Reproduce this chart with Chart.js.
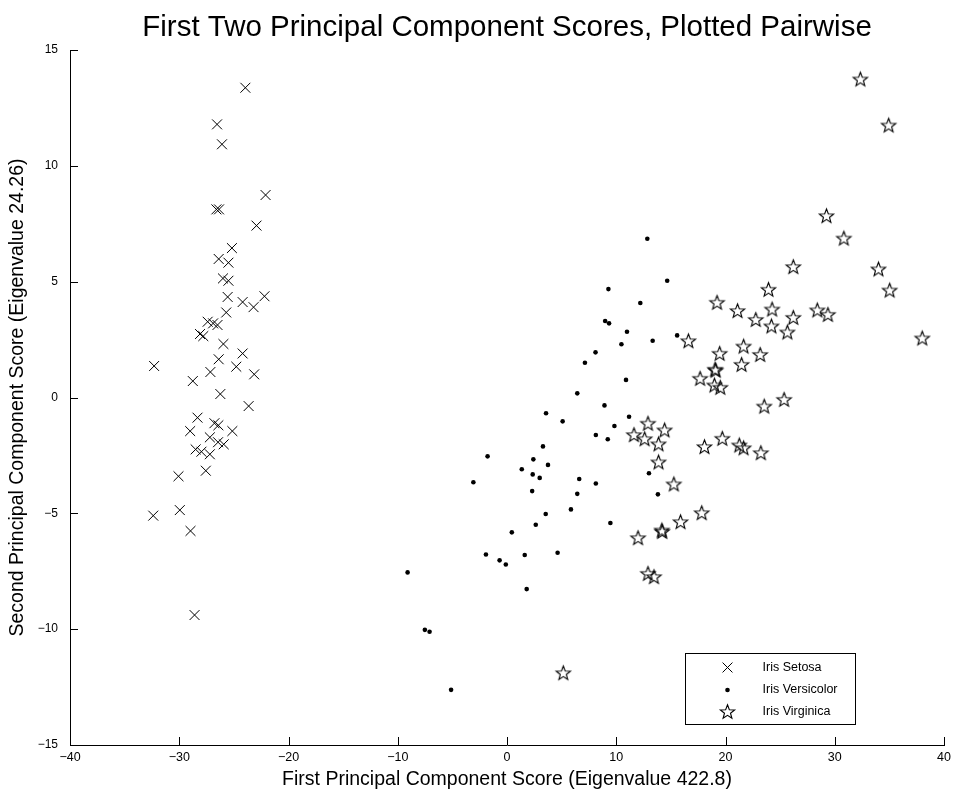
<!DOCTYPE html>
<html>
<head>
<meta charset="utf-8">
<title>First Two Principal Component Scores</title>
<script src="https://cdn.jsdelivr.net/npm/chart.js@4"></script>
<style>
  html, body { margin: 0; padding: 0; background: #fff; }
  #wrap { width: 956px; height: 791px; }
</style>
</head>
<body>
<div id="wrap"><canvas id="pcaChart" width="956" height="791"></canvas></div>
<script>
// scores (PC1, PC2)
const setosaX = [-23.95, -26.54, -26.09, -22.1, -26.6, -26.36, -22.93, -25.18, -26.39, -25.5, -26.0, -25.5, -25.57, -24.2, -23.2, -22.2, -25.7, -27.4, -26.9, -26.5, -28.1, -27.8, -25.96, -24.2, -26.39, -32.3, -24.78, -27.15, -23.14, -28.76, -26.24, -23.65, -28.33, -26.78, -26.42, -29.0, -25.14, -27.2, -26.45, -25.93, -28.5, -27.97, -27.2, -27.57, -30.07, -29.95, -32.38, -28.97, -28.6];
const setosaY = [13.37, 11.79, 10.93, 8.74, 8.12, 8.12, 7.42, 6.45, 5.98, 5.82, 5.14, 5.04, 4.34, 4.12, 3.9, 4.37, 3.67, 3.27, 3.2, 3.13, 2.74, 2.65, 2.31, 1.9, 1.65, 1.36, 1.33, 1.1, 1.0, 0.71, 0.15, -0.37, -0.87, -1.11, -1.2, -1.45, -1.45, -1.72, -1.93, -2.02, -2.24, -2.34, -2.45, -3.16, -3.4, -4.86, -5.1, -5.76, -9.39];

const versicolorX = [8.1, 7.13, 6.43, 3.57, 5.09, 8.13, 3.29, -1.78, 2.41, 3.75, 1.35, 2.35, 2.99, -3.08, 6.61, 8.13, 2.3, 6.43, 5.85, 3.54, 2.63, 0.44, -1.93, -0.68, -0.11, 1.62, 4.63, -9.1, 1.8, -7.52, -7.09, -5.12, 12.84, 14.66, 12.2, 10.98, 10.47, 13.33, 15.57, 10.89, 11.17, 12.99, 13.81, 9.46, 9.28, 8.98, 9.34, 8.92, 9.83, 9.22];
const versicolorY = [1.95, 1.5, 0.18, -0.68, -1.03, -1.62, -2.11, -2.54, -2.67, -2.91, -3.1, -3.32, -3.47, -3.66, -3.52, -3.71, -4.04, -4.16, -4.83, -5.03, -5.49, -5.82, -6.78, -7.03, -7.21, -6.8, -6.7, -7.55, -8.27, -10.03, -10.11, -12.62, 6.85, 5.04, 4.08, 2.84, 2.3, 2.45, 2.68, 0.76, -0.83, -3.27, -4.18, -5.42, 4.68, 3.3, 3.2, -0.34, -1.23, -1.8];

const virginicaX = [32.34, 34.93, 29.24, 30.83, 26.2, 34.0, 35.02, 23.93, 19.22, 21.1, 24.26, 22.77, 26.2, 28.4, 29.37, 24.2, 25.66, 38.0, 16.6, 21.65, 19.46, 23.17, 21.47, 19.04, 19.1, 17.67, 18.98, 19.52, 25.36, 23.54, 12.9, 14.42, 11.62, 12.6, 13.87, 19.7, 18.07, 21.26, 21.65, 23.23, 13.87, 15.27, 17.82, 15.88, 14.17, 14.2, 11.99, 12.9, 13.45, 5.15];
const virginicaY = [13.75, 11.76, 7.85, 6.88, 5.65, 5.55, 4.64, 4.67, 4.11, 3.75, 3.82, 3.37, 3.46, 3.78, 3.59, 3.09, 2.83, 2.57, 2.45, 2.22, 1.91, 1.86, 1.43, 1.22, 1.18, 0.83, 0.54, 0.44, -0.08, -0.37, -1.11, -1.4, -1.6, -1.78, -2.0, -1.76, -2.12, -2.05, -2.17, -2.38, -2.78, -3.73, -4.97, -5.36, -5.72, -5.78, -6.05, -7.59, -7.73, -11.88];

const seriesNames = ['Iris Setosa', 'Iris Versicolor', 'Iris Virginica'];
const xTicks = [-40, -30, -20, -10, 0, 10, 20, 30, 40];
const yTicks = [-15, -10, -5, 0, 5, 10, 15];

const plainFont = "'Liberation Sans', Arial, Helvetica, sans-serif";

function toPoints(xs, ys) {
    return xs.map((x, i) => ({ x: x, y: ys[i] }));
}

function minusSign(v) {
    return String(v).replace('-', '\u2212');
}

// hollow five-point star marker
function makeStar(r) {
    const size = Math.ceil(r * 2 + 4);
    const c = document.createElement('canvas');
    c.width = size;
    c.height = size;
    const g = c.getContext('2d');
    const cx = size / 2, cy = size / 2 + r * 0.1;
    g.beginPath();
    for (let i = 0; i < 10; i++) {
        const rad = i % 2 === 0 ? r : r * 0.42;
        const a = -Math.PI / 2 + i * Math.PI / 5;
        g.lineTo(cx + rad * Math.cos(a), cy + rad * Math.sin(a));
    }
    g.closePath();
    g.strokeStyle = '#000';
    g.lineWidth = 1.1;
    g.stroke();
    return c;
}
const starMark = makeStar(7.5);

// tick marks pointing into the plot
const inwardTicks = {
    id: 'inwardTicks',
    afterDraw(chart) {
        const ctx = chart.ctx;
        const area = chart.chartArea;
        const xs = chart.scales.x;
        const ys = chart.scales.y;
        ctx.save();
        ctx.strokeStyle = '#000';
        ctx.lineWidth = 1;
        ctx.beginPath();
        xs.ticks.forEach((t, i) => {
            const px = Math.round(xs.getPixelForTick(i)) + 0.5;
            ctx.moveTo(px, area.bottom);
            ctx.lineTo(px, area.bottom - 8);
        });
        ys.ticks.forEach((t, i) => {
            const py = Math.round(ys.getPixelForTick(i)) + 0.5;
            ctx.moveTo(area.left, py);
            ctx.lineTo(area.left + 8, py);
        });
        ctx.stroke();
        ctx.restore();
    }
};

// boxed legend in the lower right corner of the plot
const boxLegend = {
    id: 'boxLegend',
    afterDraw(chart) {
        const ctx = chart.ctx;
        const area = chart.chartArea;
        const w = 170, h = 71;
        const left = Math.round(area.right - 89 - w) + 0.5;
        const top = Math.round(area.bottom - 21 - h) + 0.5;
        ctx.save();
        ctx.fillStyle = '#fff';
        ctx.fillRect(left, top, w, h);
        ctx.strokeStyle = '#000';
        ctx.lineWidth = 1;
        ctx.strokeRect(left, top, w, h);

        const symX = left + 42;
        const textX = left + 77;
        const rows = [top + 14, top + 36.5, top + 58];
        ctx.font = '12.5px ' + plainFont;
        ctx.textBaseline = 'middle';
        ctx.fillStyle = '#000';
        chart.data.datasets.forEach((ds, i) => {
            const y = rows[i];
            if (i === 0) {
                const d = 7 * Math.SQRT1_2;
                ctx.beginPath();
                ctx.moveTo(symX - d, y - d);
                ctx.lineTo(symX + d, y + d);
                ctx.moveTo(symX - d, y + d);
                ctx.lineTo(symX + d, y - d);
                ctx.stroke();
            } else if (i === 1) {
                ctx.beginPath();
                ctx.arc(symX, y, 2.3, 0, Math.PI * 2);
                ctx.fill();
            } else {
                ctx.drawImage(starMark, symX - starMark.width / 2, y - starMark.height / 2);
            }
            ctx.fillText(ds.label, textX, y);
        });
        ctx.restore();
    }
};

document.addEventListener('DOMContentLoaded', function() {
    const ctx = document.getElementById('pcaChart');

    new Chart(ctx, {
        type: 'scatter',
        data: {
            datasets: [
                {
                    label: seriesNames[0],
                    data: toPoints(setosaX, setosaY),
                    pointStyle: 'crossRot',
                    pointRadius: 7,
                    borderColor: '#000',
                    borderWidth: 1,
                    backgroundColor: '#000'
                },
                {
                    label: seriesNames[1],
                    data: toPoints(versicolorX, versicolorY),
                    pointStyle: 'circle',
                    pointRadius: 2.3,
                    borderWidth: 0,
                    backgroundColor: '#000'
                },
                {
                    label: seriesNames[2],
                    data: toPoints(virginicaX, virginicaY),
                    pointStyle: starMark,
                    pointRadius: 7.5
                }
            ]
        },
        options: {
            responsive: false,
            animation: false,
            events: [],
            layout: {
                padding: { left: 0, right: 9, top: 0, bottom: 0 }
            },
            plugins: {
                legend: { display: false },
                tooltip: { enabled: false },
                title: {
                    display: true,
                    text: 'First Two Principal Component Scores, Plotted Pairwise',
                    fullSize: false,
                    color: '#000',
                    font: { family: plainFont, size: 29.5, weight: 'normal', lineHeight: 1.2 },
                    padding: { top: 10.3, bottom: 4.3 }
                }
            },
            scales: {
                x: {
                    type: 'linear',
                    min: xTicks[0],
                    max: xTicks[xTicks.length - 1],
                    afterBuildTicks(scale) {
                        scale.ticks = xTicks.map(v => ({ value: v }));
                    },
                    afterFit(scale) {
                        scale.height = 46;
                    },
                    grid: { display: false, drawTicks: false },
                    border: { display: true, color: '#000', width: 1 },
                    ticks: {
                        color: '#000',
                        padding: 5,
                        maxRotation: 0,
                        font: { family: plainFont, size: 12.5 },
                        callback: v => minusSign(v)
                    },
                    title: {
                        display: true,
                        text: 'First Principal Component Score (Eigenvalue 422.8)',
                        color: '#000',
                        font: { family: plainFont, size: 19.5 },
                        padding: { top: 0, bottom: 0 }
                    }
                },
                y: {
                    type: 'linear',
                    min: yTicks[0],
                    max: yTicks[yTicks.length - 1],
                    afterBuildTicks(scale) {
                        scale.ticks = yTicks.map(v => ({ value: v }));
                    },
                    afterFit(scale) {
                        scale.width = 70;
                    },
                    grid: { display: false, drawTicks: false },
                    border: { display: true, color: '#000', width: 1 },
                    ticks: {
                        color: '#000',
                        padding: 12,
                        font: { family: plainFont, size: 12 },
                        callback: v => minusSign(v)
                    },
                    title: {
                        display: true,
                        text: 'Second Principal Component Score (Eigenvalue 24.26)',
                        color: '#000',
                        font: { family: plainFont, size: 19.5 },
                        padding: { top: 6, bottom: 0 }
                    }
                }
            }
        },
        plugins: [inwardTicks, boxLegend]
    });
});
</script>
</body>
</html>
